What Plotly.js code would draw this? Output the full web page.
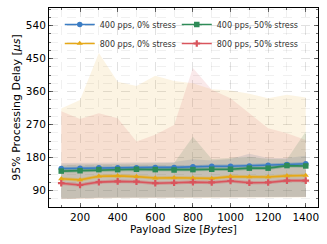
<!DOCTYPE html>
<html><head><meta charset="utf-8">
<script src="https://cdn.plot.ly/plotly-3.0.1.min.js"></script>
<style>body{margin:0;background:#fff}#c{width:327px;height:244px}</style>
</head><body><div id="c"></div>
<script>
const payload = [100,200,300,400,500,600,700,800,900,1000,1100,1200,1300,1400];
const names = ["400 pps, 0% stress","400 pps, 50% stress","800 pps, 0% stress","800 pps, 50% stress"];
// 95th percentile delay (centre lines)
const p95_400_0  = [150,151,152,152,152,153,153,155,156,156,157,159,161,163];
const p95_400_50 = [143,144,147,147,148,147,146,147,148,148,151,151,158,157];
const p95_800_0  = [122,119,129,130,128,124,125,124,123,128,127,127,130,131];
const p95_800_50 = [110,105,113,115,114,110,111,113,112,116,111,112,117,117];
// band bounds (min / max)
const lo_400_0  = [67,69,70,70,70,70,70,70,71,71,71,71,72,72];
const hi_400_0  = [165,165,165,166,166,167,168,175,172,176,190,179,179,185];
const lo_400_50 = [68,70,70,71,71,71,71,71,71,72,72,72,72,73];
const hi_400_50 = [160,161,162,162,162,163,165,237,176,179,182,176,175,251];
const lo_800_0  = [66,68,68,69,69,69,69,69,70,70,70,70,70,71];
const hi_800_0  = [314,337,465,387,375,403,389,383,366,363,354,342,351,344];
const lo_800_50 = [67,69,69,70,70,70,70,70,70,71,71,71,71,72];
const hi_800_50 = [306,285,301,287,224,242,269,424,365,342,301,260,246,228];

const cols = ['#3B7DC4','#2E8B57','#E6A817','#D9545C'];
const halos = ['rgba(59,125,196,0.35)','rgba(46,139,87,0.35)','rgba(230,168,23,0.35)','rgba(217,84,92,0.35)'];
const fills = ['rgba(80,110,150,0.15)','rgba(60,120,80,0.15)','rgba(230,168,23,0.12)','rgba(217,84,92,0.13)'];
const vals = [p95_400_0,p95_400_50,p95_800_0,p95_800_50];
const los = [lo_400_0,lo_400_50,lo_800_0,lo_800_50];
const his = [hi_400_0,hi_400_50,hi_800_0,hi_800_50];
const syms = ['circle','square','triangle-up','cross'];
const legs = ['legend','legend2','legend','legend2'];

const traces = [];
const bandOrder = [2,3,0,1];
bandOrder.forEach(i=>{
  traces.push({x:payload,y:los[i],mode:'lines',line:{width:0},showlegend:false,hoverinfo:'skip'});
  traces.push({x:payload,y:his[i],mode:'lines',line:{width:0},fill:'tonexty',fillcolor:fills[i],showlegend:false,hoverinfo:'skip'});
});
[0,2,1,3].forEach(i=>{
  traces.push({x:payload,y:vals[i],mode:'lines',line:{color:halos[i],width:3.5},showlegend:false,hoverinfo:'skip'});
});
[0,2,1,3].forEach(i=>{
  traces.push({x:payload,y:vals[i],name:names[i],mode:'lines+markers',legend:legs[i],
    line:{color:cols[i],width:1.6},marker:{symbol:syms[i],size:5.5,color:cols[i]}});
});

const gridc = 'rgba(0,0,0,0.10)';
const layout = {
  width:327,height:244,
  margin:{l:49,r:9,t:8,b:37},
  paper_bgcolor:'#fff',plot_bgcolor:'#fff',
  font:{family:'DejaVu Sans',size:10,color:'#000'},
  showlegend:true,
  xaxis:{range:[35,1465],tickvals:[200,400,600,800,1000,1200,1400],ticks:'inside',ticklen:4,tickwidth:0.8,
    showline:true,linecolor:'#000',linewidth:1,mirror:'ticks',zeroline:false,
    showgrid:true,gridcolor:gridc,griddash:'dash',gridwidth:0.6,tickfont:{size:10.5},
    minor:{dtick:100,tick0:0,ticks:'inside',ticklen:2,showgrid:true,gridcolor:gridc,griddash:'dash',gridwidth:0.6},
    title:{text:'Payload Size [<i>Bytes</i>]',font:{size:10.5},standoff:4}},
  yaxis:{range:[45,588],tickvals:[90,180,270,360,450,540],ticks:'inside',ticklen:4,tickwidth:0.8,
    showline:true,linecolor:'#000',linewidth:1,mirror:'ticks',zeroline:false,
    showgrid:true,gridcolor:gridc,griddash:'dash',gridwidth:0.6,tickfont:{size:10.5},
    minor:{dtick:22.5,tick0:0,ticks:'inside',ticklen:2,showgrid:true,gridcolor:gridc,griddash:'dash',gridwidth:0.6},
    title:{text:'95% Processing Delay [<i>μs</i>]',font:{size:11},standoff:3}},
  legend:{x:0.04,y:0.99,xanchor:'left',yanchor:'top',bgcolor:'rgba(0,0,0,0)',font:{size:8,color:'#333'},
    itemwidth:30,tracegroupgap:0,traceorder:'normal'},
  legend2:{x:0.475,y:0.99,xanchor:'left',yanchor:'top',bgcolor:'rgba(0,0,0,0)',font:{size:8,color:'#333'},
    itemwidth:30,tracegroupgap:0,traceorder:'normal'}
};
Plotly.newPlot('c',traces,layout,{staticPlot:true,displayModeBar:false});
</script></body></html>
